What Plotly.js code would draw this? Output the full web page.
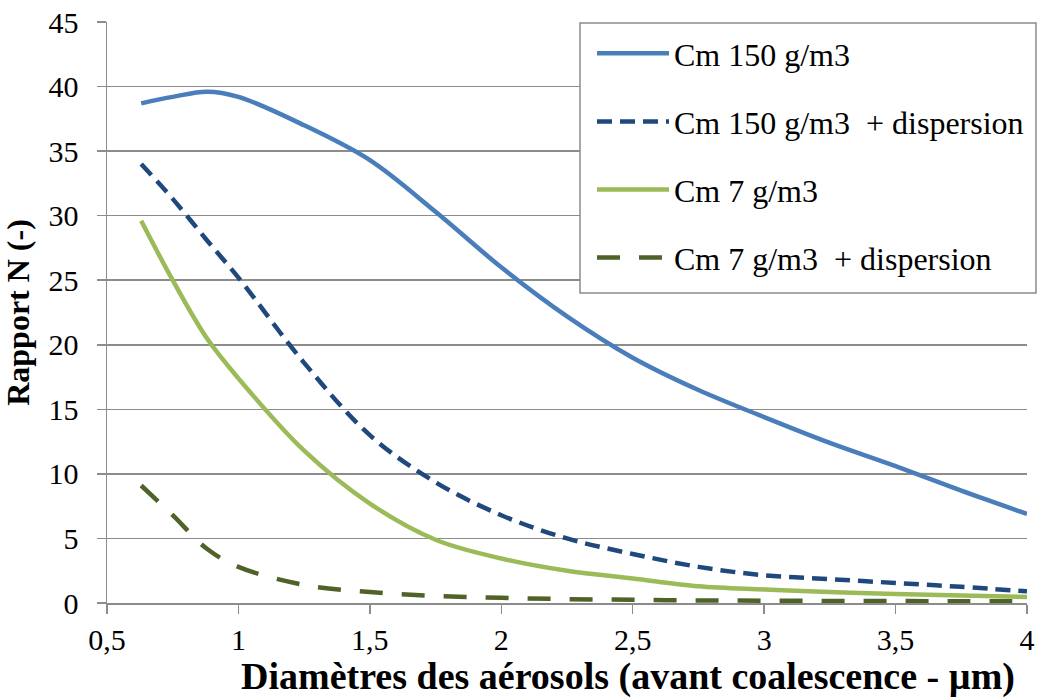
<!DOCTYPE html>
<html>
<head>
<meta charset="utf-8">
<script src="https://cdn.plot.ly/plotly-3.0.1.min.js"></script>
<style>html,body{margin:0;padding:0;background:#fff;}#chart{width:1037px;height:700px;}</style>
</head>
<body>
<div id="chart"></div>
<script>
const diam = [0.63, 0.75, 0.88, 1.0, 1.25, 1.5, 1.75, 2.0, 2.25, 2.5, 2.75, 3.0, 3.25, 3.5, 3.75, 4.0];
const cm150 = [38.7, 39.2, 39.6, 39.2, 37.0, 34.3, 30.3, 26.0, 22.2, 19.0, 16.5, 14.4, 12.4, 10.6, 8.7, 6.9];
const cm150Disp = [34.0, 31.3, 28.1, 25.2, 18.6, 13.0, 9.35, 6.8, 5.0, 3.8, 2.8, 2.15, 1.85, 1.55, 1.25, 0.9];
const cm7 = [29.6, 25.0, 20.5, 17.4, 11.8, 7.7, 4.9, 3.45, 2.5, 1.9, 1.3, 1.05, 0.85, 0.7, 0.58, 0.47];
const cm7Disp = [9.1, 6.8, 4.2, 2.8, 1.4, 0.85, 0.55, 0.4, 0.3, 0.25, 0.2, 0.18, 0.16, 0.15, 0.14, 0.13];
const names = ["Cm 150 g/m3", "Cm 150 g/m3  + dispersion", "Cm 7 g/m3", "Cm 7 g/m3  + dispersion"];
const xTitle = "Diamètres des aérosols (avant coalescence - µm)";
const yTitle = "Rapport N (-)";

const font = "'Liberation Serif', 'Times New Roman', Times, serif";
const mk = (y, name, color, dash, g) => ({
  x: diam, y: y, name: name, type: "scatter", mode: "lines", legendgroup: g,
  line: {color: color, width: 4.5, shape: "spline", smoothing: 1, dash: dash}
});
const data = [
  mk(cm150, names[0], "#4a7ebb", "solid", "a"),
  mk(cm150Disp, names[1], "#1f497d", "15px,8px", "b"),
  mk(cm7, names[2], "#9bbb59", "solid", "c"),
  mk(cm7Disp, names[3], "#4f6228", "23px,19px", "d")
];
const layout = {
  width: 1037, height: 700,
  margin: {l: 107, r: 0, t: 22, b: 97, autoexpand: false},
  paper_bgcolor: "#fff", plot_bgcolor: "#fff",
  separators: ", ",
  font: {family: font, size: 30, color: "#000"},
  showlegend: true,
  shapes: [{
    type: "rect", xref: "paper", yref: "paper", layer: "above",
    x0: 0.5086, x1: 0.9989, y0: 0.5336, y1: 0.9983,
    line: {color: "#8c8c8c", width: 1.5}, fillcolor: "#fff"
  }],
  legend: {
    x: 0.5215, xanchor: "left", y: 0.9931, yanchor: "top",
    bgcolor: "rgba(0,0,0,0)", borderwidth: 0,
    font: {family: font, size: 32, color: "#000"},
    itemwidth: 72, tracegroupgap: 23.5, traceorder: "grouped"
  },
  annotations: [{
    text: "<b>" + xTitle + "</b>", xref: "paper", yref: "paper",
    x: 0.560, y: -0.127, xanchor: "center", yanchor: "middle", showarrow: false,
    font: {family: font, size: 38, color: "#000"}
  }],
  xaxis: {
    domain: [0, 920 / 930],
    range: [0.5, 4], dtick: 0.5, tick0: 0.5,
    showgrid: false, zeroline: false,
    showline: true, linecolor: "#8c8c8c", linewidth: 1.5,
    ticks: "outside", ticklen: 9, tickcolor: "#8c8c8c", tickwidth: 1.5,
    tickfont: {family: font, size: 30, color: "#000"}
  },
  yaxis: {
    range: [0, 45], dtick: 5, tick0: 0,
    showgrid: true, gridcolor: "#8c8c8c", gridwidth: 1.5, zeroline: false,
    showline: true, linecolor: "#8c8c8c", linewidth: 1.5,
    ticks: "outside", ticklen: 9, tickcolor: "#8c8c8c", tickwidth: 1.5,
    ticklabelstandoff: 12,
    tickfont: {family: font, size: 30, color: "#000"},
    title: {text: "<b>" + yTitle + "</b>", font: {family: font, size: 32, color: "#000"}, standoff: 14}
  }
};
Plotly.newPlot("chart", data, layout, {displayModeBar: false, staticPlot: true});
</script>
</body>
</html>
